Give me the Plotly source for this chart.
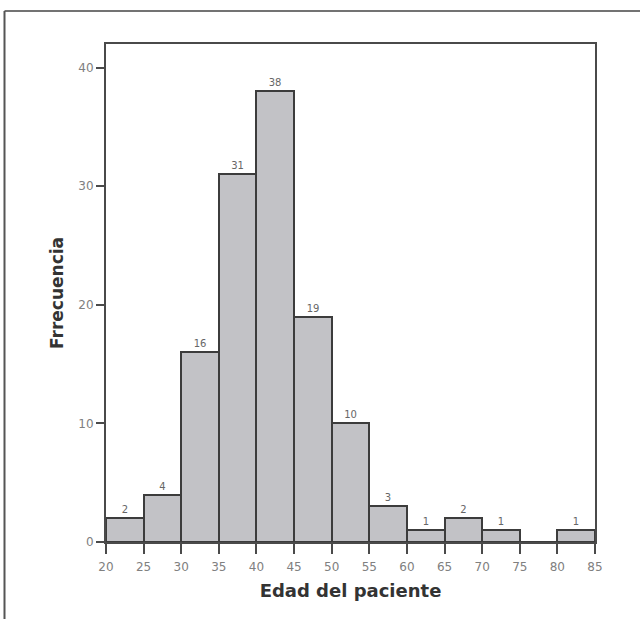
import plotly.graph_objects as go

bin_starts = [20, 25, 30, 35, 40, 45, 50, 55, 60, 65, 70, 75, 80]
bin_width = 5
counts = [2, 4, 16, 31, 38, 19, 10, 3, 1, 2, 1, 0, 1]
x_ticks = [20, 25, 30, 35, 40, 45, 50, 55, 60, 65, 70, 75, 80, 85]
y_ticks = [0, 10, 20, 30, 40]

centers = [s + bin_width / 2 for s in bin_starts]
labels = [str(c) if c > 0 else "" for c in counts]

FONT = "DejaVu Sans, Liberation Sans, Arial"

fig = go.Figure()
fig.add_trace(go.Bar(
    x=centers, y=counts, width=bin_width,
    marker=dict(color="#c2c2c6", line=dict(color="#3c3c3c", width=2)),
    text=labels, textposition="outside", cliponaxis=False,
    textfont=dict(family=FONT, size=10, color="#666"),
    showlegend=False,
))

W, H = 640, 619
L, R, T, B = 106, 45, 44, 77
pw, ph = W - L - R, H - T - B

def px(x):
    return (x - L) / pw

def py(y):
    return (H - B - y) / ph

fig.update_layout(
    width=W, height=H,
    margin=dict(l=L, r=R, t=T, b=B, autoexpand=False),
    plot_bgcolor="white", paper_bgcolor="white",
    font=dict(family=FONT, color="#666"),
    bargap=0,
    xaxis=dict(
        range=[20, 85], tickvals=x_ticks, ticktext=[str(v) for v in x_ticks],
        showline=True, linecolor="#4a4a4a", linewidth=2, mirror=True,
        ticks="outside", ticklen=10, tickwidth=2, tickcolor="#4a4a4a",
        ticklabelstandoff=3,
        showgrid=False, zeroline=False,
        tickfont=dict(size=12, color="#808080"),
        title=dict(text="<b>Edad del paciente</b>", standoff=11,
                   font=dict(size=18, color="#333")),
    ),
    yaxis=dict(
        range=[0, 42], tickvals=y_ticks,
        showline=True, linecolor="#4a4a4a", linewidth=2, mirror=True,
        ticks="outside", ticklen=8, tickwidth=2, tickcolor="#4a4a4a",
        showgrid=False, zeroline=False,
        tickfont=dict(size=12, color="#808080"),
        title=dict(text="<b>Frrecuencia</b>", standoff=10,
                   font=dict(size=17, color="#333")),
    ),
    shapes=[
        dict(type="line", xref="paper", yref="paper",
             x0=px(4.5), x1=px(641), y0=py(11), y1=py(11),
             line=dict(color="#444", width=1.5)),
        dict(type="line", xref="paper", yref="paper",
             x0=px(4.5), x1=px(4.5), y0=py(11), y1=py(620),
             line=dict(color="#555", width=2)),
    ],
)

fig.write_html("out.html",
               config={"displayModeBar": False},
               post_script="document.body.style.margin='0';document.body.style.overflow='hidden';")
